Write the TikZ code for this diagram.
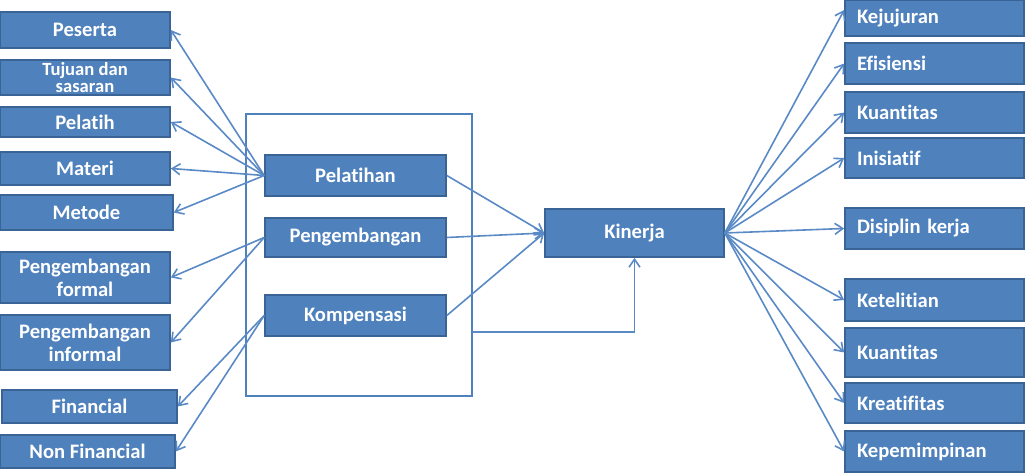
\documentclass[tikz,border=0pt]{standalone}
\usepackage{fontspec}
\setmainfont{Carlito}[Ligatures=NoCommon]
\usetikzlibrary{arrows.meta}
\definecolor{biru}{HTML}{4F81BD}
\definecolor{birutua}{HTML}{3A6496}
\definecolor{garis}{HTML}{5A8AC6}
\begin{document}
\begin{tikzpicture}[x=0.5pt,y=-0.5pt,
  kotak/.style={draw=birutua, line width=0.8pt, fill=biru, text=white, inner sep=0pt, align=center, font=\bfseries\fontsize{10.3}{11.5}\selectfont},
  kanan/.style={kotak, minimum height=#1*0.5pt, text width=77.5pt, inner xsep=6pt, align=left},
  panah/.style={draw=garis, line width=0.8pt, -{Straight Barb[length=4pt,width=5.5pt]}}]
\useasboundingbox (0,0) rectangle (1030,474);
\node[draw=biru, line width=0.8pt, minimum width=113pt, minimum height=141pt] (kotakbesar) at (359,255){};
\node[kotak, minimum width=85pt, minimum height=18pt] (peserta) at (85,30){Peserta};
\node[kotak, minimum width=85pt, minimum height=17.5pt, font=\bfseries\fontsize{9.3}{8.6}\selectfont] (tujuan) at (85,77.5){Tujuan dan\\ sasaran};
\node[kotak, minimum width=85pt, minimum height=15pt] (pelatih) at (85,122){Pelatih};
\node[kotak, minimum width=85pt, minimum height=16.5pt] (materi) at (85,168.5){Materi};
\node[kotak, minimum width=86.5pt, minimum height=17.5pt] (metode) at (86.5,212.5){Metode};
\node[kotak, minimum width=85pt, minimum height=25.5pt] (formal) at (85,277.5){Pengembangan\\ formal};
\node[kotak, minimum width=85pt, minimum height=27.5pt] (informal) at (85,342.5){Pengembangan\\ informal};
\node[kotak, minimum width=87.5pt, minimum height=16.5pt] (financial) at (89.5,406.5){Financial};
\node[kotak, minimum width=87.5pt, minimum height=16.5pt] (nonfinancial) at (87.5,451.5){Non Financial};
\node[kotak, minimum width=90.5pt, minimum height=20.5pt] (pelatihan) at (355.5,175.5){Pelatihan};
\node[kotak, minimum width=90.5pt, minimum height=19.5pt] (pengembangan) at (355.5,237.5){Pengembangan};
\node[kotak, minimum width=90.5pt, minimum height=20.5pt] (kompensasi) at (355.5,315.5){Kompensasi};
\node[kotak, minimum width=89.5pt, minimum height=24pt] (kinerja) at (634.5,233){Kinerja};
\node[kanan=36] (kejujuran) at (934.5,18){Kejujuran};
\node[kanan=41] (efisiensi) at (934.5,63.5){Efisiensi};
\node[kanan=41] (kuantitas1) at (934.5,112.5){Kuantitas};
\node[kanan=40] (inisiatif) at (934.5,158){Inisiatif};
\node[kanan=41] (disiplin) at (934.5,228.5){Disiplin kerja};
\node[kanan=42] (ketelitian) at (934.5,300){Ketelitian};
\node[kanan=49] (kuantitas2) at (934.5,352.5){Kuantitas};
\node[kanan=40] (kreatifitas) at (934.5,403){Kreatifitas};
\node[kanan=41] (kepemimpinan) at (934.5,451.5){Kepemimpinan};
\coordinate (siku) at (472,332);
\draw[panah] (pelatihan.west) -- (peserta.east);
\draw[panah] (pelatihan.west) -- (tujuan.east);
\draw[panah] (pelatihan.west) -- (pelatih.east);
\draw[panah] (pelatihan.west) -- (materi.east);
\draw[panah] (pelatihan.west) -- (metode.east);
\draw[panah] (pengembangan.west) -- (formal.east);
\draw[panah] (pengembangan.west) -- (informal.east);
\draw[panah] (kompensasi.west) -- (financial.east);
\draw[panah] (kompensasi.west) -- (nonfinancial.east);
\draw[panah] (pelatihan.east) -- (kinerja.west);
\draw[panah] (pengembangan.east) -- (kinerja.west);
\draw[panah] (kompensasi.east) -- (kinerja.west);
\draw[panah] (siku) -| (kinerja.south);
\draw[panah] (kinerja.east) -- ([yshift=4pt]kejujuran.west);
\draw[panah] (kinerja.east) -- (efisiensi.west);
\draw[panah] (kinerja.east) -- (kuantitas1.west);
\draw[panah] (kinerja.east) -- (inisiatif.west);
\draw[panah] (kinerja.east) -- (disiplin.west);
\draw[panah] (kinerja.east) -- (ketelitian.west);
\draw[panah] (kinerja.east) -- (kuantitas2.west);
\draw[panah] (kinerja.east) -- (kreatifitas.west);
\draw[panah] (kinerja.east) -- (kepemimpinan.west);
\end{tikzpicture}
\end{document}
